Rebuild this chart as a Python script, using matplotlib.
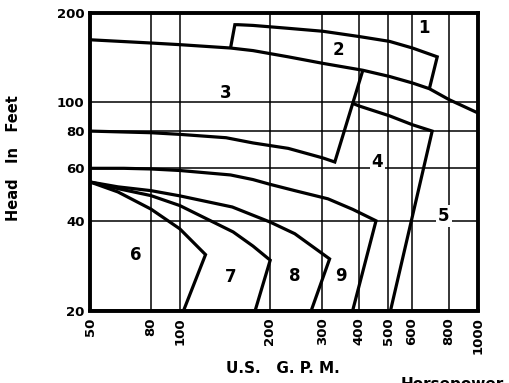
import matplotlib
matplotlib.use("Agg")
import matplotlib.pyplot as plt
from matplotlib.ticker import NullLocator, FixedLocator, FixedFormatter

# ---- data (U.S. GPM, head in feet) ----
x_ticks = [50, 80, 100, 200, 300, 400, 500, 600, 800, 1000]
y_ticks = [20, 40, 60, 80, 100, 200]

curve1_gpm = [148, 153, 157, 176, 231, 302, 401, 505, 603, 730, 687]
curve1_head = [152, 182, 182, 181, 177, 173, 166, 160, 152, 142, 111]

curve2_gpm = [50, 80, 100, 148, 176, 231, 302, 411, 505, 603, 687, 800, 1000]
curve2_head = [162, 158, 156, 152, 149, 142, 135, 128, 122, 116, 111, 102, 92]

curve3_gpm = [50, 80, 100, 143, 176, 231, 302, 331, 411]
curve3_head = [80, 79, 78, 76, 73, 70, 65, 63, 128]

curve4_gpm = [381, 401, 505, 603, 702, 509]
curve4_head = [99, 97, 90, 84, 80, 20]

curve5_gpm = [50, 65, 80, 100, 148, 176, 201, 243, 314, 380, 455, 380]
curve5_head = [60, 60, 59.7, 59, 57, 55, 53, 50.5, 47.4, 43.7, 40, 20]

curve8_gpm = [50, 62, 80, 100, 150, 201, 243, 318, 276]
curve8_head = [54, 52, 50.5, 48.5, 44.5, 39.6, 36.2, 29.8, 20]

curve7_gpm = [50, 62, 80, 100, 151, 176, 201, 179]
curve7_head = [54, 51.3, 48.6, 45, 36.7, 32.9, 29.5, 20]

curve6_gpm = [50, 62, 80, 100, 122, 103]
curve6_head = [54, 50, 43.8, 37.6, 30.8, 20]

label_text = ["1", "2", "3", "4", "5", "6", "7", "8", "9"]
label_gpm = [660, 341, 143, 460, 769, 71, 148, 243, 348]
label_head = [177, 150, 107.5, 62.8, 41.6, 30.8, 25.9, 26.2, 26.2]
label_boxed = [False, False, False, True, True, False, False, False, False]

# ---- figure ----
W, H = 510, 383
fig = plt.figure(figsize=(W / 100, H / 100), dpi=100)
ax = fig.add_axes([90 / W, (H - 310.5) / H, (478 - 90) / W, (310.5 - 12.5) / H])
ax.set_xscale("log")
ax.set_yscale("log")
ax.set_xlim(50, 1000)
ax.set_ylim(20, 200)

ax.xaxis.set_major_locator(FixedLocator(x_ticks))
ax.xaxis.set_major_formatter(FixedFormatter([str(v) for v in x_ticks]))
ax.yaxis.set_major_locator(FixedLocator(y_ticks))
ax.yaxis.set_major_formatter(FixedFormatter([str(v) for v in y_ticks]))
ax.xaxis.set_minor_locator(NullLocator())
ax.yaxis.set_minor_locator(NullLocator())
ax.tick_params(axis="both", length=0)
ax.tick_params(axis="x", pad=5, labelrotation=90)
ax.tick_params(axis="y", pad=4)
for lab in ax.get_xticklabels() + ax.get_yticklabels():
    lab.set_fontweight("bold")
    lab.set_fontsize(9.5)
    lab.set_family("DejaVu Sans")

ax.grid(True, which="major", color="black", lw=1.1, zorder=1)
ax.set_axisbelow(True)
for s in ax.spines.values():
    s.set_linewidth(2.8)
    s.set_zorder(5)

lw = 2.3
for g, h in [(curve1_gpm, curve1_head), (curve2_gpm, curve2_head),
             (curve3_gpm, curve3_head), (curve4_gpm, curve4_head),
             (curve5_gpm, curve5_head), (curve6_gpm, curve6_head),
             (curve7_gpm, curve7_head), (curve8_gpm, curve8_head)]:
    ax.plot(g, h, color="black", lw=lw, solid_joinstyle="miter",
            solid_capstyle="butt", zorder=3, clip_on=False)

for t, gx, hy, boxed in zip(label_text, label_gpm, label_head, label_boxed):
    kw = {}
    if boxed:
        kw["bbox"] = dict(facecolor="white", edgecolor="none", pad=1.5)
    ax.text(gx, hy, t, ha="center", va="center", fontsize=12,
            fontweight="semibold", family="DejaVu Sans", zorder=4, **kw)

ax.set_xlabel("U.S.   G. P. M.", fontsize=11, fontweight="semibold",
              family="DejaVu Sans")
ax.xaxis.set_label_coords((283 - 90) / (478 - 90), -(361 - 310.5) / (310.5 - 12.5))
ax.set_ylabel("Head   In   Feet", fontsize=10.5, fontweight="bold",
              family="DejaVu Sans")
ax.yaxis.set_label_coords(-(90 - 21) / (478 - 90), (310.5 - 158) / (310.5 - 12.5))

fig.text(401 / W, (H - 377) / H, "Horsepower", ha="left", va="top",
         fontsize=11, fontweight="bold", family="DejaVu Sans")

fig.savefig("out.png", dpi=100, facecolor="white")
